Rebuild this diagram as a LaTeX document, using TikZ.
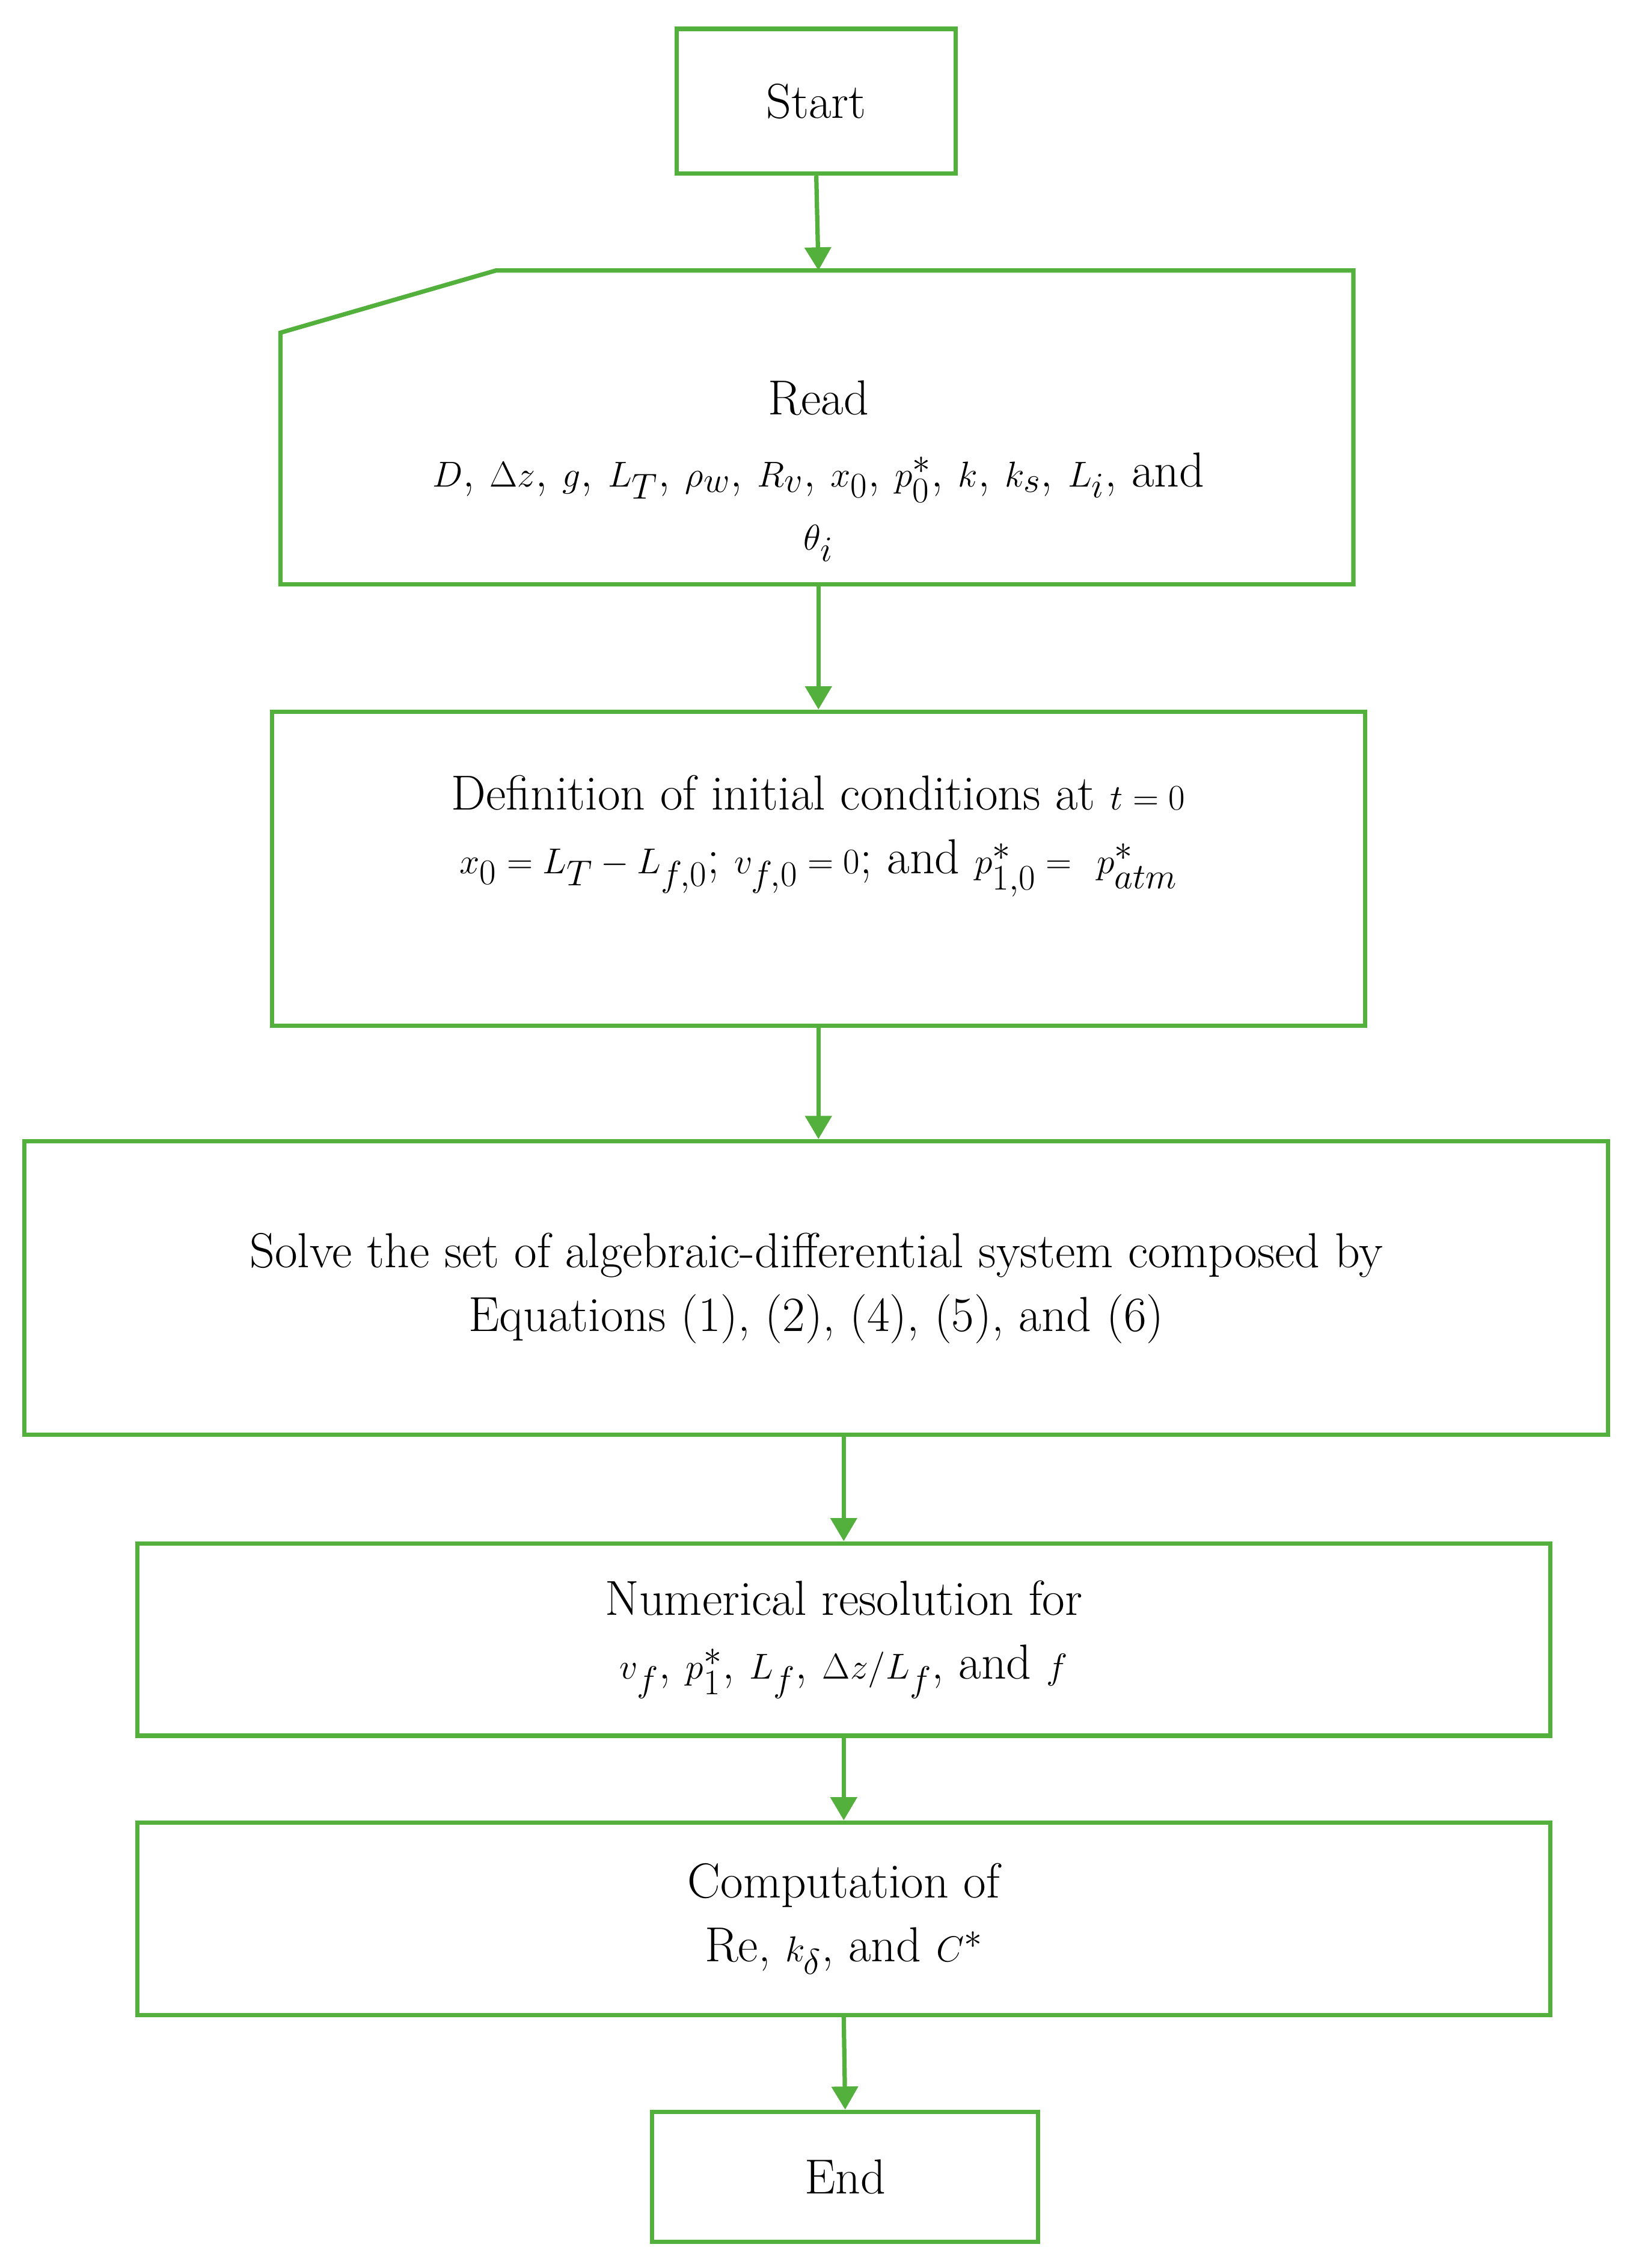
\documentclass[tikz,border=0pt]{standalone}
\usepackage{amsmath}
\usetikzlibrary{arrows.meta}
\begin{document}
\begin{tikzpicture}[x=1pt,y=-1pt,
  line width=3pt,
  box/.style={draw=fg,line width=3pt},
  arr/.style={draw=fg,line width=3pt,-{Triangle[length=16pt,width=18pt]}},
  txt/.style={font=\fontsize{34}{44}\selectfont,align=center,text=black}]
\definecolor{fg}{RGB}{84,176,60}
\useasboundingbox (0,0) rectangle (1131,1568);
\node[box,minimum width=193pt,minimum height=100pt,txt] (start) at (564.5,70) {Start};
\draw[box] (194,230) -- (343,187) -- (936,187) -- (936,404) -- (194,404) -- cycle;
\coordinate (readT) at (566,187);
\coordinate (readB) at (566,404);
\node[txt] (read) at (566,275) {Read};
\begin{scope}
\clip (196,300) rectangle (934,402);
\node[txt,anchor=north] (readvars) at (566,308) {$D$, $\Delta z$, $g$, $L_T$, $\rho_w$, $R_v$, $x_0$, $p_0^*$, $k$, $k_s$, $L_i$, and\\ $\theta_i$};
\end{scope}
\node[box,minimum width=756pt,minimum height=217pt] (def) at (566,600.5) {};
\node[txt] at (566,578) {Definition of initial conditions at $t=0$\\ $x_0=L_T-L_{f,0}$; $v_{f,0}=0$; and $p_{1,0}^*=\ p_{atm}^*$};
\node[box,minimum width=1095pt,minimum height=203pt,txt] (solve) at (564.5,890.5) {Solve the set of algebraic-differential system composed by\\ Equations (1), (2), (4), (5), and (6)};
\node[box,minimum width=977pt,minimum height=133pt,txt] (num) at (583.5,1133.5) {Numerical resolution for\\ $v_f$, $p_1^*$, $L_f$, $\Delta z/L_f$, and $f$};
\node[box,minimum width=977pt,minimum height=133pt,txt] (comp) at (583.5,1326.5) {Computation of\\ Re, $k_\delta$, and $C^*$};
\node[box,minimum width=267pt,minimum height=90pt,txt] (end) at (584.5,1505) {End};
\draw[arr] (start.south) -- (readT);
\draw[arr] (readB) -- (def.north -| readB);
\draw[arr] (def.south -| readB) -- (solve.north -| readB);
\draw[arr] (solve.south -| num.north) -- (num.north);
\draw[arr] (num.south) -- (comp.north);
\draw[arr] (comp.south) -- (end.north);
\end{tikzpicture}
\end{document}
